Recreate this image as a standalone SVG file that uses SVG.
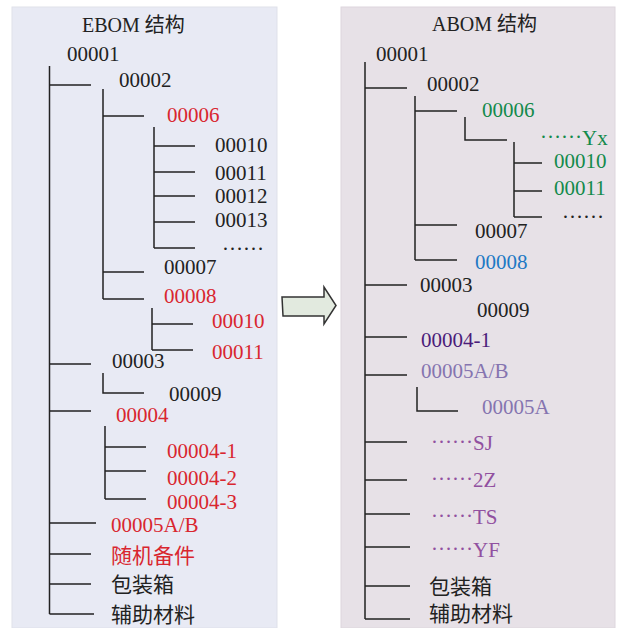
<svg xmlns="http://www.w3.org/2000/svg" width="619" height="628" viewBox="0 0 619 628">
<defs>
<style>
text{font-family:"Liberation Serif","Noto Sans CJK SC",serif;font-size:21px;fill:#222}
.cj{font-size:20px}
.r{fill:#d9262f}
.g{fill:#138a4b}
.b{fill:#1e79c4}
.dp{fill:#4b1c7a}
.lp{fill:#8574b0}
.pp{fill:#9150a0}
#conn path{fill:none;stroke:#222;stroke-width:1.5}
</style>
</defs>
<rect x="12" y="7" width="265" height="621" fill="#e8eaf4" stroke="#dfe1ea"/>
<rect x="341" y="7" width="274" height="621" fill="#e7e1e7" stroke="#ddd6dd"/>
<g id="arrow"><path d="M282 297 L324 297 L324 287 L336 305.5 L324 324 L324 316 L283 316 Z" fill="#e2eadf" stroke="#333" stroke-width="1.5"/></g>
<g id="conn">
<path d="M49.5 66V614M49.5 85H91M49.5 364H91M49.5 411H91M49.5 523H96M49.5 554H91M49.5 584H91M49.5 614H94"/>
<path d="M103 89V299M103 116H144M103 272H144M103 299H144"/>
<path d="M154 127V248M154 146H195M154 172H195M154 196H195M154 222H195M154 248H195"/>
<path d="M152 308V350M152 324H193M152 350H193"/>
<path d="M103 373V393H144"/>
<path d="M105 426V499M105 447H146M105 471H146M105 499H146"/>
<path d="M365 62V619M365 88H407M365 285H407M365 337H407M365 375H407M365 442H407M365 480H407M365 514H410M365 547H410M365 586H410M365 619H410"/>
<path d="M415 96V260M415 111H457M415 225H457M415 260H457"/>
<path d="M465 117V140H507"/>
<path d="M514 142V217M514 163H542M514 191H542M514 217H542"/>
<path d="M417 387V411H458"/>
</g>
<g id="ebom-title"><text class="cj" x="82" y="32">EBOM 结构</text></g>
<g id="e-00001"><text x="67" y="61">00001</text></g>
<g id="e-00002"><text x="119" y="87">00002</text></g>
<g id="e-00006"><text class="r" x="167" y="122">00006</text></g>
<g id="e-00010"><text x="215" y="152">00010</text></g>
<g id="e-00011"><text x="215" y="180">00011</text></g>
<g id="e-00012"><text x="215" y="203">00012</text></g>
<g id="e-00013"><text x="215" y="227">00013</text></g>
<g id="e-more"><text x="222" y="250">……</text></g>
<g id="e-00007"><text x="164" y="274">00007</text></g>
<g id="e-00008"><text class="r" x="164" y="303">00008</text></g>
<g id="e-00008-00010"><text class="r" x="212" y="328">00010</text></g>
<g id="e-00008-00011"><text class="r" x="212" y="359">00011</text></g>
<g id="e-00003"><text x="112" y="368">00003</text></g>
<g id="e-00009"><text x="169" y="401">00009</text></g>
<g id="e-00004"><text class="r" x="116" y="422">00004</text></g>
<g id="e-00004-1"><text class="r" x="167" y="458">00004-1</text></g>
<g id="e-00004-2"><text class="r" x="167" y="485">00004-2</text></g>
<g id="e-00004-3"><text class="r" x="167" y="509">00004-3</text></g>
<g id="e-00005AB"><text class="r" x="111" y="532">00005A/B</text></g>
<g id="e-spare"><text class="r" x="111" y="563">随机备件</text></g>
<g id="e-box"><text x="111" y="592">包装箱</text></g>
<g id="e-aux"><text x="111" y="622">辅助材料</text></g>
<g id="abom-title"><text class="cj" x="432" y="31">ABOM 结构</text></g>
<g id="a-00001"><text x="376" y="61">00001</text></g>
<g id="a-00002"><text x="427" y="91">00002</text></g>
<g id="a-00006"><text class="g" x="482" y="117">00006</text></g>
<g id="a-yx"><text class="g" x="540" y="145"><tspan dy="-7">……</tspan><tspan dy="7">Yx</tspan></text></g>
<g id="a-00010"><text class="g" x="554" y="168">00010</text></g>
<g id="a-00011"><text class="g" x="554" y="195">00011</text></g>
<g id="a-more"><text x="562" y="218">……</text></g>
<g id="a-00007"><text x="475" y="238">00007</text></g>
<g id="a-00008"><text class="b" x="475" y="269">00008</text></g>
<g id="a-00003"><text x="420" y="292">00003</text></g>
<g id="a-00009"><text x="477" y="317">00009</text></g>
<g id="a-00004-1"><text class="dp" x="421" y="347">00004-1</text></g>
<g id="a-00005AB"><text class="lp" x="421" y="378">00005A/B</text></g>
<g id="a-00005A"><text class="lp" x="482" y="414">00005A</text></g>
<g id="a-sj"><text class="pp" x="431" y="450"><tspan dy="-7">……</tspan><tspan dy="7">SJ</tspan></text></g>
<g id="a-2z"><text class="pp" x="431" y="487"><tspan dy="-7">……</tspan><tspan dy="7">2Z</tspan></text></g>
<g id="a-ts"><text class="pp" x="431" y="524"><tspan dy="-7">……</tspan><tspan dy="7">TS</tspan></text></g>
<g id="a-yf"><text class="pp" x="431" y="557"><tspan dy="-7">……</tspan><tspan dy="7">YF</tspan></text></g>
<g id="a-box"><text x="429" y="594">包装箱</text></g>
<g id="a-aux"><text x="429" y="621">辅助材料</text></g>
</svg>
